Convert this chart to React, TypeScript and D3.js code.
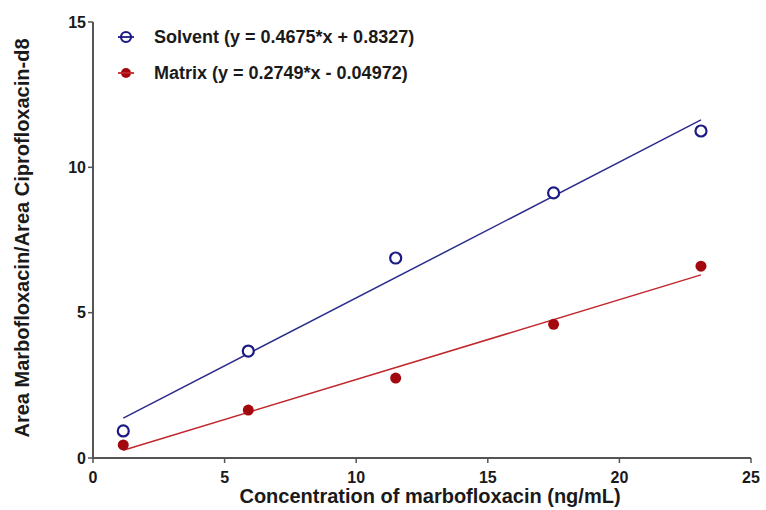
import React from "react";
import * as d3 from "d3";

const concentrations = [1.15, 5.9, 11.5, 17.5, 23.1];
const solventValues = [0.93, 3.68, 6.88, 9.12, 11.25];
const matrixValues = [0.45, 1.65, 2.75, 4.6, 6.6];
const xTicks = [0, 5, 10, 15, 20, 25];
const yTicks = [0, 5, 10, 15];
const solventFit = { slope: 0.4675, intercept: 0.8327 };
const matrixFit = { slope: 0.2749, intercept: -0.04972 };
const legendLabels = ["Solvent (y = 0.4675*x + 0.8327)", "Matrix (y = 0.2749*x - 0.04972)"];

const W = 766, H = 510;
const margin = { left: 93, right: 15, top: 22, bottom: 52 };

export default function App() {
  const x = d3.scaleLinear().domain([0, 25]).range([margin.left, W - margin.right]);
  const y = d3.scaleLinear().domain([0, 15]).range([H - margin.bottom, margin.top]);
  const axisColor = "#555";
  const font = "Liberation Sans, Arial, sans-serif";
  const fitX = [d3.min(concentrations)!, d3.max(concentrations)!];
  const fitPath = (f: { slope: number; intercept: number }) =>
    d3.line<number>().x((d) => x(d)).y((d) => y(f.slope * d + f.intercept))(fitX) || "";
  const solventColor = "#1c1a84";
  const matrixColor = "#a3080f";
  return (
    <svg width={W} height={H} style={{ position: "absolute", left: 0, top: 0, background: "#fff" }} fontFamily={font}>
      <line x1={x(0)} x2={x(0)} y1={y(0) + 1} y2={y(15)} stroke={axisColor} strokeWidth={2} />
      <line x1={x(0) - 1} x2={x(25)} y1={y(0)} y2={y(0)} stroke={axisColor} strokeWidth={2} />
      {yTicks.map((t) => (
        <g key={"y" + t}>
          <line x1={x(0) - 5} x2={x(0)} y1={y(t)} y2={y(t)} stroke={axisColor} strokeWidth={1.5} />
          <text x={x(0) - 7} y={y(t)} dy="0.36em" textAnchor="end" fontSize={16} fontWeight="bold" fill="#1a1a1a">{t}</text>
        </g>
      ))}
      {xTicks.map((t) => (
        <g key={"x" + t}>
          <line x1={x(t)} x2={x(t)} y1={y(0)} y2={y(0) + 5} stroke={axisColor} strokeWidth={1.5} />
          <text x={x(t)} y={y(0) + 25} textAnchor="middle" fontSize={16} fontWeight="bold" fill="#1a1a1a">{t}</text>
        </g>
      ))}
      <text x={430} y={503} textAnchor="middle" fontSize={20} fontWeight="bold" fill="#1a1a1a">
        Concentration of marbofloxacin (ng/mL)
      </text>
      <text transform={`translate(29, 238) rotate(-90)`} textAnchor="middle" fontSize={20} fontWeight="bold" fill="#1a1a1a">
        Area Marbofloxacin/Area Ciprofloxacin-d8
      </text>
      <path d={fitPath(solventFit)} stroke="#2b2b8c" strokeWidth={1.5} fill="none" />
      <path d={fitPath(matrixFit)} stroke="#c0272d" strokeWidth={1.5} fill="none" />
      {concentrations.map((c, i) => (
        <circle key={"s" + i} cx={x(c)} cy={y(solventValues[i])} r={5.5} fill="#fff" stroke={solventColor} strokeWidth={2.2} />
      ))}
      {concentrations.map((c, i) => (
        <circle key={"m" + i} cx={x(c)} cy={y(matrixValues[i])} r={5.5} fill={matrixColor} />
      ))}
      {legendLabels.map((lab, i) => {
        const ly = 37 + i * 36;
        const isS = i === 0;
        return (
          <g key={lab}>
            {isS ? (
              <circle cx={126} cy={ly} r={5} fill="none" stroke={solventColor} strokeWidth={2.2} />
            ) : (
              <circle cx={126} cy={ly} r={5} fill={matrixColor} />
            )}
            <line x1={118} x2={134} y1={ly} y2={ly} stroke={isS ? solventColor : "#c0272d"} strokeWidth={1.8} />
            <text x={154} y={ly} dy="0.36em" fontSize={18} fontWeight="bold" fill="#1a1a1a">{lab}</text>
          </g>
        );
      })}
    </svg>
  );
}
